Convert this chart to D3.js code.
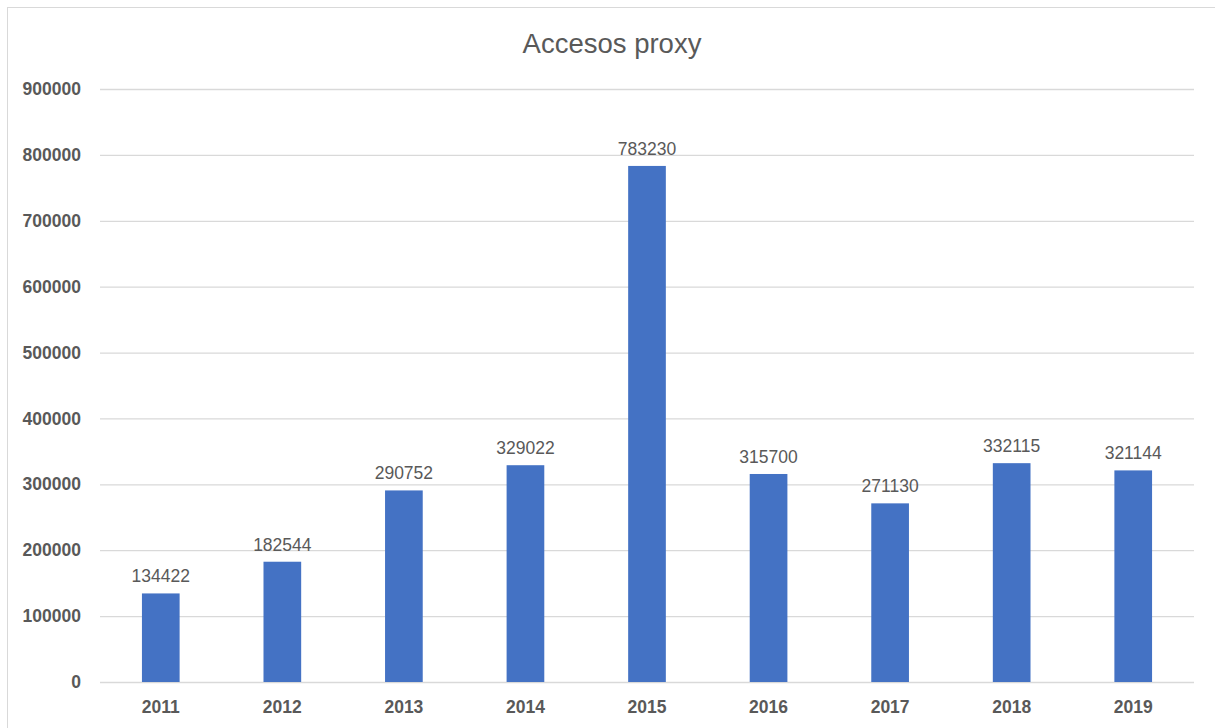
<!DOCTYPE html>
<html lang="es">

<head>
  <meta charset="UTF-8">
  <title>Accesos proxy</title>
  <script src="https://d3js.org/d3.v7.min.js"></script>
  <style>
    body { margin: 0; background: #fff; }
    text { font-family: "Liberation Sans", Arial, sans-serif; fill: #595959; }
  </style>
</head>

<body>
</body>
<script>
  const WIDTH = 1215;
  const HEIGHT = 728;

  const years = ['2011', '2012', '2013', '2014', '2015', '2016', '2017', '2018', '2019'];
  const accesos = [134422, 182544, 290752, 329022, 783230, 315700, 271130, 332115, 321144];
  const yTicks = [0, 100000, 200000, 300000, 400000, 500000, 600000, 700000, 800000, 900000];

  const margin = { left: 100, right: 21, top: 89, bottom: 46 };
  const plotW = WIDTH - margin.left - margin.right;
  const plotH = HEIGHT - margin.top - margin.bottom;

  const svg = d3.select('body')
    .append('svg')
    .attr('width', WIDTH)
    .attr('height', HEIGHT);

  // chart frame (only top and left visible in the crop)
  svg.append('rect')
    .attr('x', 7.5)
    .attr('y', 7.5)
    .attr('width', WIDTH + 50)
    .attr('height', HEIGHT + 50)
    .attr('fill', 'none')
    .attr('stroke', '#d9d9d9');

  svg.append('text')
    .attr('x', 612)
    .attr('y', 53)
    .attr('text-anchor', 'middle')
    .style('font-size', '27.5px')
    .text('Accesos proxy');

  const g = svg.append('g')
    .attr('transform', `translate(${margin.left}, ${margin.top})`);

  const x = d3.scaleBand()
    .domain(years)
    .range([0, plotW])
    .paddingInner(0.69)
    .paddingOuter(0.345);

  const y = d3.scaleLinear()
    .domain([0, 900000])
    .range([plotH, 0]);

  const yAxis = d3.axisLeft(y)
    .tickValues(yTicks)
    .tickFormat(d3.format('d'))
    .tickSizeInner(-plotW)
    .tickSizeOuter(0)
    .tickPadding(19);

  const yg = g.append('g').call(yAxis);
  yg.select('.domain').remove();
  yg.selectAll('.tick line').attr('stroke', '#d9d9d9').attr('stroke-width', 1.3);
  yg.selectAll('.tick text')
    .style('font-size', '17.5px')
    .style('font-weight', 'bold')
    .attr('fill', '#595959');

  const xAxis = d3.axisBottom(x)
    .tickSize(0)
    .tickPadding(19);

  const xg = g.append('g')
    .attr('transform', `translate(0, ${plotH})`)
    .call(xAxis);
  xg.select('.domain').remove();
  xg.selectAll('.tick text')
    .style('font-size', '17.5px')
    .style('font-weight', 'bold')
    .attr('fill', '#595959');

  g.selectAll('rect.bar')
    .data(accesos)
    .enter()
    .append('rect')
    .attr('class', 'bar')
    .attr('x', (d, i) => x(years[i]))
    .attr('y', (d) => y(d))
    .attr('width', x.bandwidth())
    .attr('height', (d) => plotH - y(d))
    .attr('fill', '#4472C4');

  g.selectAll('text.label')
    .data(accesos)
    .enter()
    .append('text')
    .attr('class', 'label')
    .attr('x', (d, i) => x(years[i]) + x.bandwidth() / 2)
    .attr('y', (d) => y(d) - 11)
    .attr('text-anchor', 'middle')
    .style('font-size', '17.5px')
    .text((d) => d);
</script>

</html>
